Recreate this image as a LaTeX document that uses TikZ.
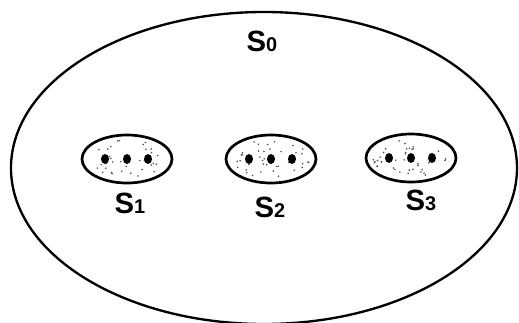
\documentclass[tikz,border=0pt]{standalone}
\usepackage{fontspec}
\setmainfont{Liberation Sans}
\usetikzlibrary{shapes.geometric, positioning, calc}
\definecolor{speck}{RGB}{80,80,80}

\begin{document}
\begin{tikzpicture}[x=0.03cm, y=-0.03cm, every node/.style={font=\bfseries\fontsize{25}{28}\selectfont}]
    \tikzset{setbig/.style={ellipse, draw, line width=2pt, minimum width=15.18cm,
                          minimum height=9.36cm, inner sep=0pt},
             subset/.style={ellipse, draw, line width=2.3pt, minimum width=2.7cm,
                          minimum height=1.44cm, inner sep=0pt},
             setlabel/.style={inner sep=0pt, anchor=base}}
    \newcommand{\setname}[1]{S{\fontsize{17}{20}\selectfont #1}}
    \useasboundingbox (0,0) rectangle (519,322);
    \clip (0,0) rectangle (519,322);
    \node[setbig] (s0) at (264,168) {};
    \node[setlabel] (l0) at (262,51) {\setname{0}};
    \node[subset] (s1) at (127,159) {};
    \node[subset] (s2) at (271,159) {};
    \node[subset] (s3) at (411,158) {};
    \node[setlabel] (l1) at (130,213) {\setname{1}};
    \node[setlabel] (l2) at (270,217) {\setname{2}};
    \node[setlabel] (l3) at (421,210) {\setname{3}};
    % stipple and the three points in each subset
    \pgfmathsetseed{41}
    \foreach \s in {s1, s2, s3} {
      \foreach \k in {1,...,40} {
        \pgfmathsetmacro{\ang}{360*rnd}
        \pgfmathsetmacro{\rad}{sqrt(rnd)}
        \fill[speck] ($(\s)+({39*\rad*cos(\ang)},{19*\rad*sin(\ang)})$) circle (0.9);
      }
      \foreach \dx in {-22, 0, 21}
        \fill ($(\s)+(\dx,0)$) ellipse (4 and 5);
    }
\end{tikzpicture}
\end{document}
